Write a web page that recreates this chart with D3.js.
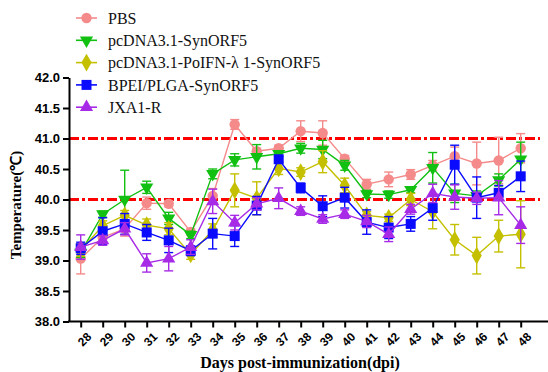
<!DOCTYPE html>
<html>
<head>
<meta charset="utf-8">
<script src="https://cdn.jsdelivr.net/npm/d3@7"></script>
<style>
  body { margin: 0; background: #fff; }
  svg { display: block; }
</style>
</head>
<body>
<div id="chart"></div>
<script>
// data
const days = [28, 29, 30, 31, 32, 33, 34, 35, 36, 37, 38, 39, 40, 41, 42, 43, 44, 45, 46, 47, 48];
const yTicks = [38.0, 38.5, 39.0, 39.5, 40.0, 40.5, 41.0, 41.5, 42.0];
const refLines = [40.0, 41.0];

const seriesNames = ["PBS", "pcDNA3.1-SynORF5", "pcDNA3.1-PoIFN-\u03bb 1-SynORF5", "BPEI/PLGA-SynORF5", "JXA1-R"];

const pbs      = [39.03, 39.38, 39.52, 39.94, 39.93, 39.47, 40.06, 41.23, 40.79, 40.84, 41.12, 41.09, 40.67, 40.25, 40.33, 40.41, 40.56, 40.71, 40.59, 40.64, 40.84];
const pbsErr   = [0.25, 0.1, 0.12, 0.1, 0.05, 0.05, 0.12, 0.08, 0.05, 0.05, 0.17, 0.2, 0.05, 0.08, 0.12, 0.08, 0.08, 0.15, 0.35, 0.38, 0.24];
const syn      = [39.13, 39.76, 40.0, 40.2, 39.69, 39.42, 40.42, 40.65, 40.7, 40.75, 40.84, 40.82, 40.56, 40.09, 40.08, 40.16, 40.52, 40.1, 40.06, 40.32, 40.66];
const synErr   = [0.08, 0.05, 0.48, 0.1, 0.1, 0.06, 0.08, 0.1, 0.2, 0.05, 0.08, 0.15, 0.08, 0.06, 0.06, 0.05, 0.25, 0.15, 0.08, 0.1, 0.28];
const ifn      = [39.17, 39.57, 39.74, 39.58, 39.52, 39.1, 39.5, 40.15, 40.02, 40.51, 40.45, 40.62, 40.23, 39.74, 39.7, 40.0, 39.8, 39.34, 39.08, 39.4, 39.43];
const ifnErr   = [0.1, 0.08, 0.08, 0.1, 0.1, 0.08, 0.1, 0.27, 0.27, 0.1, 0.07, 0.18, 0.12, 0.06, 0.06, 0.1, 0.28, 0.25, 0.3, 0.26, 0.55];
const bpei     = [39.2, 39.48, 39.6, 39.46, 39.33, 39.16, 39.44, 39.4, 39.9, 40.66, 40.19, 39.89, 40.03, 39.63, 39.54, 39.6, 39.86, 40.57, 40.03, 40.11, 40.38];
const bpeiErr  = [0.1, 0.22, 0.17, 0.13, 0.2, 0.08, 0.25, 0.17, 0.15, 0.05, 0.08, 0.17, 0.17, 0.2, 0.18, 0.12, 0.2, 0.32, 0.34, 0.12, 0.25];
const jxa      = [39.22, 39.33, 39.52, 38.96, 39.03, 39.22, 39.97, 39.62, 39.93, 40.02, 39.81, 39.68, 39.76, 39.64, 39.43, 39.84, 40.1, 40.04, 40.02, 40.03, 39.58];
const jxaErr   = [0.2, 0.08, 0.1, 0.15, 0.2, 0.12, 0.2, 0.12, 0.1, 0.17, 0.07, 0.07, 0.07, 0.1, 0.12, 0.08, 0.15, 0.2, 0.1, 0.28, 0.3];

const colors = ["#f48a8a", "#12c012", "#c4c000", "#0a0aff", "#a62ae6"];
const shapes = [
  {type: d3.symbolCircle, size: 85, rot: 0},
  {type: d3.symbolTriangle, size: 75, rot: 180},
  {type: d3.symbolDiamond, size: 90, rot: 0},
  {type: d3.symbolSquare, size: 100, rot: 0},
  {type: d3.symbolTriangle, size: 75, rot: 0}
];
const values = [pbs, syn, ifn, bpei, jxa];
const errors = [pbsErr, synErr, ifnErr, bpeiErr, jxaErr];

const serif = "'Liberation Serif', 'Times New Roman', serif";
const sans = "'Liberation Sans', Arial, sans-serif";

const width = 548, height = 372;
const svg = d3.select("#chart").append("svg")
  .attr("width", width).attr("height", height);

const x = d3.scaleLinear().domain([28, 48]).range([80.7, 520.7]);
const y = d3.scaleLinear().domain([38, 42]).range([321.5, 77.5]);
const axisX0 = 69;

// reference lines
svg.selectAll("line.ref").data(refLines).enter().append("line")
  .attr("class", "ref")
  .attr("x1", axisX0).attr("x2", 540)
  .attr("y1", d => y(d)).attr("y2", d => y(d))
  .attr("stroke", "#ff0000").attr("stroke-width", 3)
  .attr("stroke-dasharray", "10,3,3,3");

// series
const seriesData = seriesNames.map((name, i) => ({
  name: name, color: colors[i], shape: shapes[i],
  pts: days.map((d, j) => ({day: d, v: values[i][j], e: errors[i][j]}))
}));

const line = d3.line().x(d => x(d.day)).y(d => y(d.v));

const g = svg.selectAll("g.series").data(seriesData).enter().append("g")
  .attr("class", "series");

g.append("path")
  .attr("d", s => line(s.pts))
  .attr("fill", "none").attr("stroke", s => s.color).attr("stroke-width", 1.4);

// error bars + markers
g.each(function(s){
  const eb = d3.select(this).selectAll("g.eb").data(s.pts).enter().append("g")
    .attr("stroke", s.color).attr("stroke-width", 1.4);
  eb.append("line")
    .attr("x1", d => x(d.day)).attr("x2", d => x(d.day))
    .attr("y1", d => y(d.v - d.e)).attr("y2", d => y(d.v + d.e));
  eb.append("line")
    .attr("x1", d => x(d.day) - 4.5).attr("x2", d => x(d.day) + 4.5)
    .attr("y1", d => y(d.v + d.e)).attr("y2", d => y(d.v + d.e));
  eb.append("line")
    .attr("x1", d => x(d.day) - 4.5).attr("x2", d => x(d.day) + 4.5)
    .attr("y1", d => y(d.v - d.e)).attr("y2", d => y(d.v - d.e));
  d3.select(this).selectAll("path.mark").data(s.pts).enter().append("path")
    .attr("class", "mark")
    .attr("d", d3.symbol().type(s.shape.type).size(s.shape.size))
    .attr("transform", d => `translate(${x(d.day)},${y(d.v)}) rotate(${s.shape.rot})`)
    .attr("fill", s.color);
});

// y axis
const yAxis = svg.append("g")
  .attr("transform", `translate(${axisX0},0)`)
  .call(d3.axisLeft(y).tickValues(yTicks).tickFormat(d3.format(".1f")).tickSize(6).tickSizeOuter(0));
yAxis.select(".domain").attr("stroke-width", 2);
yAxis.selectAll(".tick line").attr("stroke-width", 2);
yAxis.selectAll(".tick text")
  .attr("font-family", sans)
  .attr("font-weight", "bold").attr("font-size", 13).attr("fill", "#000");

// x axis
const xAxis = svg.append("g")
  .attr("transform", `translate(0,${y(38)})`)
  .call(d3.axisBottom(x).tickValues(days).tickFormat(d3.format("d")).tickSize(6).tickSizeOuter(0));
xAxis.select(".domain").remove();
xAxis.append("line").attr("x1", axisX0 - 1).attr("x2", width).attr("stroke", "#000").attr("stroke-width", 2);
xAxis.selectAll(".tick line").attr("stroke-width", 2);
xAxis.selectAll(".tick text")
  .attr("font-family", sans)
  .attr("font-weight", "bold").attr("font-size", 12).attr("fill", "#000")
  .attr("text-anchor", "end")
  .attr("transform", "translate(5,10) rotate(-45)")
  .attr("dy", "0.7em").attr("y", 0);

// axis titles
svg.append("text")
  .attr("x", 300).attr("y", 368)
  .attr("text-anchor", "middle")
  .attr("font-family", serif)
  .attr("font-weight", "bold").attr("font-size", 16)
  .text("Days post-immunization(dpi)");

svg.append("text")
  .attr("transform", "translate(21,205) rotate(-90)")
  .attr("text-anchor", "middle")
  .attr("font-family", serif)
  .attr("font-weight", "bold").attr("font-size", 15)
  .text("Temperature(\u2103)");

// legend
const leg = svg.selectAll("g.leg").data(seriesData).enter().append("g")
  .attr("transform", (d, i) => `translate(76,${18 + i * 22.3})`);
leg.append("line").attr("x1", 0).attr("x2", 21)
  .attr("stroke", d => d.color).attr("stroke-width", 1.6);
leg.append("path")
  .attr("d", d => d3.symbol().type(d.shape.type).size(d.shape.size)())
  .attr("transform", d => `translate(10.5,0) rotate(${d.shape.rot})`)
  .attr("fill", d => d.color);
leg.append("text")
  .attr("x", 32).attr("dy", "0.35em")
  .attr("font-family", serif)
  .attr("font-size", 16).attr("fill", "#111")
  .text(d => d.name);
</script>
</body>
</html>
